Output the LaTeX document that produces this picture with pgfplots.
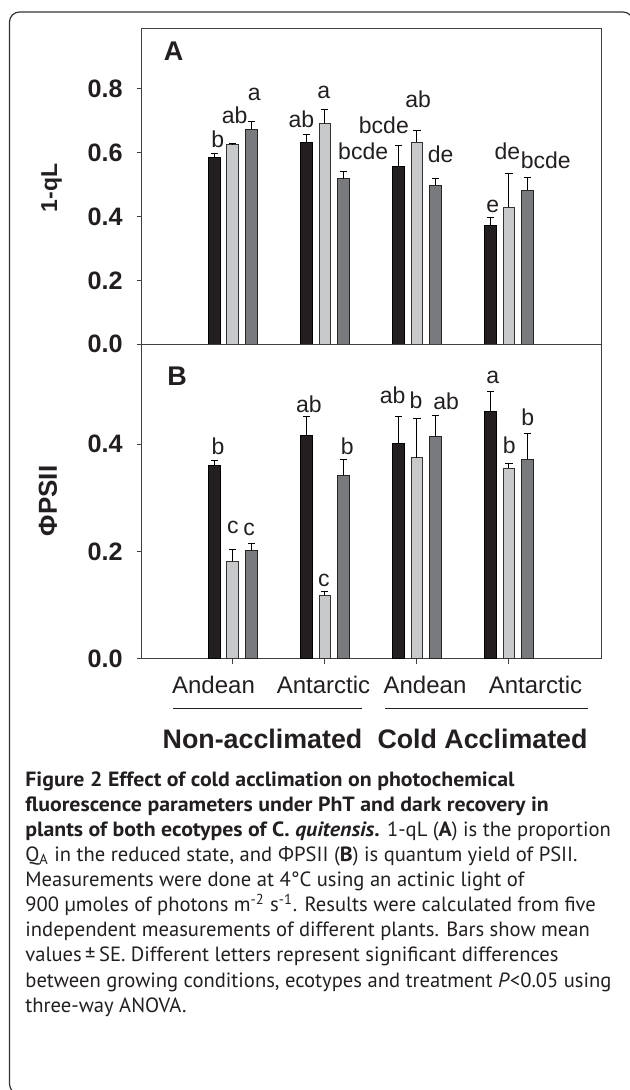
\documentclass[border=0pt]{standalone}
\usepackage{fontspec}
\setmainfont{Liberation Sans}
\newfontfamily\capfont{PT Sans}[BoldFeatures={FakeStretch=1.06}, BoldItalicFeatures={FakeStretch=1.06}]
\newfontfamily\phifont{Open Sans}
\usepackage{pgfplots}
\pgfplotsset{compat=1.18}
\definecolor{ink}{HTML}{231F20}
\definecolor{barblack}{HTML}{231F20}
\definecolor{barlight}{HTML}{C8C9CB}
\definecolor{bardark}{HTML}{797A7E}

\pgfplotsset{
  panel/.style={
    scale only axis, width=229.65pt,
    xmin=-0.99, xmax=4, ymin=0,
    ybar, bar width=5.85pt,
    axis line style={black!75, line width=0.5pt},
    tick style={black!75, line width=0.5pt},
    tick align=outside, major tick length=2.5pt,
    ytick pos=left,
    yticklabel={\pgfmathprintnumber[fixed,fixed zerofill,precision=1,assume math mode=true]{\tick}},
    yticklabel style={font=\fontsize{12.6}{14}\selectfont\bfseries, text=ink, inner sep=0pt, xshift=-6.8pt},
    error bars/y dir=plus, error bars/y explicit,
    error bars/error bar style={line width=0.5pt, black},
    error bars/error mark options={rotate=90, mark size=1.8pt, line width=0.5pt, black},
    clip=false,
  },
  sblack/.style={fill=barblack, draw=black, line width=0.5pt, bar shift=-9.2pt},
  slight/.style={fill=barlight, draw=black!80, line width=0.5pt, bar shift=0pt},
  sdark/.style={fill=bardark, draw=black!85, line width=0.5pt, bar shift=9.2pt},
}
\tikzset{lab/.style={anchor=base, inner sep=0pt, text=ink, font=\fontsize{11.5}{13}\selectfont}}

\begin{document}
\begin{tikzpicture}
% panel A: 1-qL
\begin{axis}[panel, at={(70.85pt,-172.15pt)}, anchor=south west,
  height=158pt, ymax=0.99, ytick={0,0.2,0.4,0.6,0.8}, xtick=\empty]
\addplot[sblack] coordinates {(0,0.584) += (0,0.015) (1,0.632) += (0,0.026) (2,0.556) += (0,0.066) (3,0.373) += (0,0.023)};
\addplot[slight] coordinates {(0,0.625) += (0,0.005) (1,0.693) += (0,0.043) (2,0.633) += (0,0.036) (3,0.429) += (0,0.106)};
\addplot[sdark] coordinates {(0,0.673) += (0,0.026) (1,0.518) += (0,0.024) (2,0.498) += (0,0.023) (3,0.483) += (0,0.040)};
\node[lab] at (axis cs:-0.163,0.6175) {b};
\node[lab] at (axis cs:0.02,0.6925) {ab};
\node[lab] at (axis cs:0.232,0.763) {a};
\node[lab] at (axis cs:0.746,0.680) {ab};
\node[lab] at (axis cs:0.989,0.771) {a};
\node[lab] at (axis cs:1.416,0.578) {bcde};
\node[lab] at (axis cs:1.641,0.659) {bcde};
\node[lab] at (axis cs:2.014,0.7425) {ab};
\node[lab] at (axis cs:2.258,0.571) {de};
\node[lab] at (axis cs:2.823,0.414) {e};
\node[lab] at (axis cs:2.982,0.578) {de};
\node[lab] at (axis cs:3.399,0.550) {bcde};
\end{axis}
% panel B: PhiPSII
\begin{axis}[panel, at={(70.85pt,-329.25pt)}, anchor=south west,
  height=157.1pt, ymax=0.5867, ytick={0,0.2,0.4},
  xtick={0,1,2,3}, xticklabels={}, xtick pos=bottom]
\addplot[sblack] coordinates {(0,0.360) += (0,0.009) (1,0.417) += (0,0.035) (2,0.401) += (0,0.050) (3,0.461) += (0,0.038)};
\addplot[slight] coordinates {(0,0.182) += (0,0.022) (1,0.1185) += (0,0.006) (2,0.375) += (0,0.074) (3,0.355) += (0,0.010)};
\addplot[sdark] coordinates {(0,0.202) += (0,0.013) (1,0.342) += (0,0.029) (2,0.414) += (0,0.040) (3,0.372) += (0,0.048)};
\node[lab] at (axis cs:-0.16,0.381) {b};
\node[lab] at (axis cs:0.0,0.2335) {c};
\node[lab] at (axis cs:0.177,0.230) {c};
\node[lab] at (axis cs:0.826,0.460) {ab};
\node[lab] at (axis cs:0.989,0.134) {c};
\node[lab] at (axis cs:1.242,0.381) {b};
\node[lab] at (axis cs:1.736,0.476) {ab};
\node[lab] at (axis cs:1.99,0.4665) {b};
\node[lab] at (axis cs:2.317,0.465) {ab};
\node[lab] at (axis cs:2.823,0.513) {a};
\node[lab] at (axis cs:3.003,0.3825) {b};
\node[lab] at (axis cs:3.203,0.4355) {b};
\end{axis}

\begin{scope}[x=0.5pt, y=-0.5pt]
% frame
\draw[line width=0.6pt, black!80, rounded corners=5pt] (9.5,1094) -- (9.5,12) -- (633,12) -- (633,1094) -- cycle;
% panel letters and y labels
\node[text=ink, font=\fontsize{13.5}{15}\selectfont\bfseries] at (173.5,51) {A};
\node[text=ink, font=\fontsize{13.5}{15}\selectfont\bfseries] at (177,376) {B};
\node[rotate=90, text=ink, font=\fontsize{11.5}{13}\selectfont\bfseries] at (51.7,188) {1-qL};
\node[rotate=90, text=ink, font=\fontsize{13}{15}\selectfont\bfseries] at (48,501) {ΦPSII};
% category labels
\foreach \xx/\tt in {213.5/Andean, 323.5/Antarctic, 425/Andean, 535.5/Antarctic}
  \node[anchor=base, inner sep=0pt, text=ink, font=\fontsize{12}{14}\selectfont] at (\xx,693) {\tt};
\draw[ink, line width=0.5pt] (173,708) -- (362,708);
\draw[ink, line width=0.5pt] (385,708) -- (588,708);
\node[anchor=base, inner sep=0pt, text=ink, font=\fontsize{13.4}{15}\selectfont\bfseries] at (262.5,748) {Non-acclimated};
\node[anchor=base, inner sep=0pt, text=ink, font=\fontsize{13.4}{15}\selectfont\bfseries] at (482.5,748) {Cold Acclimated};
% caption
\begin{scope}[every node/.style={anchor=base west, inner sep=0pt, text=ink, font=\capfont\fontsize{10.3}{12}\selectfont}]
\node at (25,786) {\textbf{Figure 2 Effect of cold acclimation on photochemical}};
\node at (25,811) {\textbf{fluorescence parameters under PhT and dark recovery in}};
\node at (25,836) {\textbf{plants of both ecotypes of C. \textit{quitensis}.} 1-qL (\textbf{A}) is the proportion};
\node at (25,861) {Q\textsubscript{A} in the reduced state, and {\phifont Φ}PSII (\textbf{B}) is quantum yield of PSII.};
\node at (25,886.5) {Measurements were done at 4°C using an actinic light of};
\node at (25,911.5) {900 µmoles of photons m\textsuperscript{-2} s\textsuperscript{-1}. Results were calculated from five};
\node at (25,936.5) {independent measurements of different plants. Bars show mean};
\node at (25,961.5) {values\,±\,SE. Different letters represent significant differences};
\node at (25,987) {between growing conditions, ecotypes and treatment \textit{P}<0.05 using};
\node at (25,1012) {three-way ANOVA.};
\end{scope}
\pgfresetboundingbox
\useasboundingbox (0,0) rectangle (629,1090);
\end{scope}
\end{tikzpicture}
\end{document}
